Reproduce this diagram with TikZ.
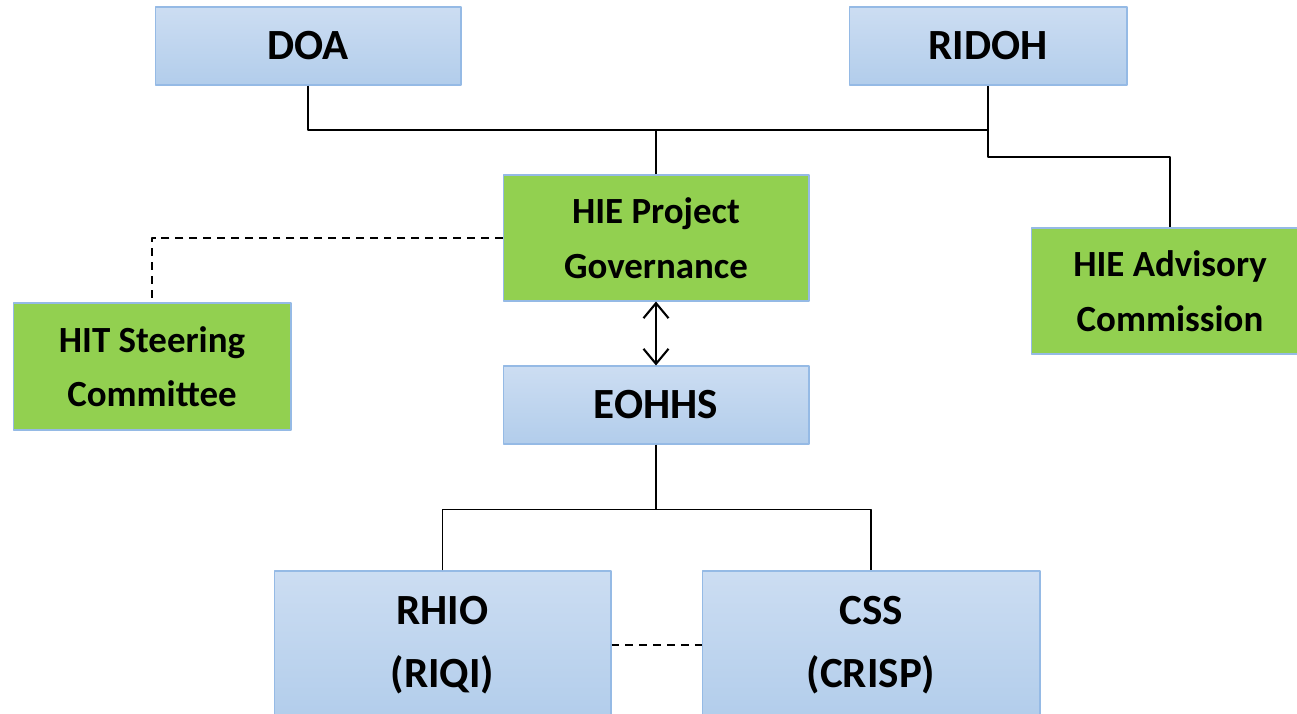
\documentclass[tikz,border=0pt]{standalone}
\usepackage{fontspec}
\setmainfont{Carlito}
\usetikzlibrary{arrows.meta}
\definecolor{boxtop}{HTML}{CCDDF2}
\definecolor{boxbot}{HTML}{B2CDEB}
\definecolor{boxline}{HTML}{95BAE5}
\definecolor{govgreen}{HTML}{92D050}
\tikzset{
	bluebox/.style={draw=boxline, line width=0.6pt, top color=boxtop, bottom color=boxbot, inner sep=0pt, align=center},
	greenbox/.style={draw=boxline, line width=0.6pt, fill=govgreen, inner sep=0pt, align=center},
	bigtext/.style={font=\fontsize{24.5}{36}\selectfont\bfseries},
	smalltext/.style={font=\fontsize{21}{31}\selectfont\bfseries},
	link/.style={line width=0.8pt},
	dottedlink/.style={line width=0.8pt, dash pattern=on 4.5pt off 3.4pt}
}
\begin{document}
\begin{tikzpicture}[x=0.02cm,y=-0.02cm,line join=round]
	\useasboundingbox (0,0) rectangle (1297,713);
	% boxes
	\node[bluebox,bigtext,minimum width=6.12cm,minimum height=1.56cm] (doa) at (308,46) {DOA};
	\node[bluebox,bigtext,minimum width=5.56cm,minimum height=1.56cm] (ridoh) at (988,46) {RIDOH};
	\node[greenbox,smalltext,minimum width=6.12cm,minimum height=2.52cm] (gov) at (656,238) {HIE Project\\Governance};
	\node[greenbox,smalltext,minimum width=5.56cm,minimum height=2.52cm] (adv) at (1170,291) {HIE Advisory\\Commission};
	\node[greenbox,smalltext,minimum width=5.56cm,minimum height=2.54cm] (hit) at (152,366.5) {HIT Steering\\Committee};
	\node[bluebox,bigtext,minimum width=6.12cm,minimum height=1.56cm] (eohhs) at (656,405) {EOHHS};
	\node[bluebox,bigtext,minimum width=6.74cm,minimum height=2.96cm] (rhio) at (442.5,645) {RHIO\\(RIQI)};
	\node[bluebox,bigtext,minimum width=6.76cm,minimum height=2.96cm] (css) at (871,645) {CSS\\(CRISP)};
	% connectors
	\coordinate (topbus) at (656,130);
	\draw[link] (doa.south) |- (topbus) -| (ridoh.south);
	\draw[link] (topbus) -- (gov.north);
	\draw[link] (topbus -| ridoh.south) -- ++(0,27) -| (adv.north);
	\draw[dottedlink] (gov.west) -| (hit.north);
	\draw[line width=1.2pt,{Straight Barb[length=3mm,width=5mm]}-{Straight Barb[length=3mm,width=5mm]}] (gov.south) -- (eohhs.north);
	\draw[link] (eohhs.south) -- ++(0,65) coordinate (midbus);
	\draw[link] (rhio.north) |- (midbus) -| (css.north);
	\draw[dottedlink] (rhio.east) -- (css.west);
\end{tikzpicture}
\end{document}
